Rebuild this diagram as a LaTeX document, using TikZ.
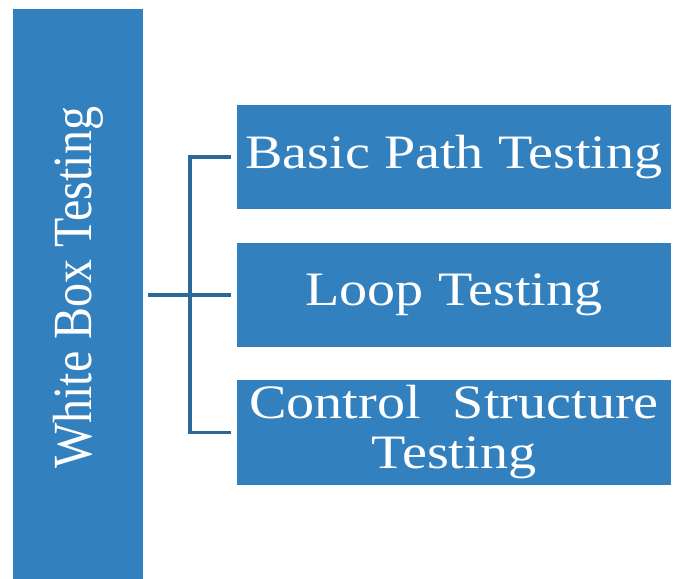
\documentclass[tikz,border=0pt]{standalone}
\usepackage{fontspec}
\usepackage{graphicx}
\newfontfamily\boxfont[FakeStretch=1.17]{Liberation Serif}
\newfontfamily\barfont{Liberation Serif}
\definecolor{boxblue}{RGB}{51,128,190}
\definecolor{linkblue}{RGB}{44,104,152}

\begin{document}
\begin{tikzpicture}[x=1pt,y=-1pt,
  topic/.style={draw=none,fill=boxblue,text=white,inner sep=0pt,
    minimum width=434pt,minimum height=104pt,align=center,
    font=\boxfont\fontsize{48}{50}\selectfont},
  link/.style={draw=linkblue,line width=3.5pt}]
\useasboundingbox (0,0) rectangle (681,579);
%root bar
\node[fill=boxblue,text=white,inner sep=0pt,minimum width=130pt,minimum height=570pt] (wbt) at (78,294) {};
\node[rotate=90,text=white,font=\barfont\fontsize{48}{50}\selectfont] (wbtlabel) at (78,288)
  {\scalebox{1}[1.15]{White Box Testing}};
%the three kinds
\node[topic] (bpt) at (454,157) {Basic Path Testing};
\node[topic] (lt) at (454,295) {Loop Testing};
\node[topic,minimum height=105pt] (cst) at (454,432.5) {Control\hspace{32pt}Structure\\Testing};
%connectors
\coordinate (hub) at (190,295);
\coordinate (root) at (148,295);
\draw[link,shorten <=6pt] (bpt.west) -| (hub) |- ([xshift=-6pt]cst.west);
\draw[link,shorten >=6pt] (root) -- (lt.west);
\end{tikzpicture}
\end{document}
